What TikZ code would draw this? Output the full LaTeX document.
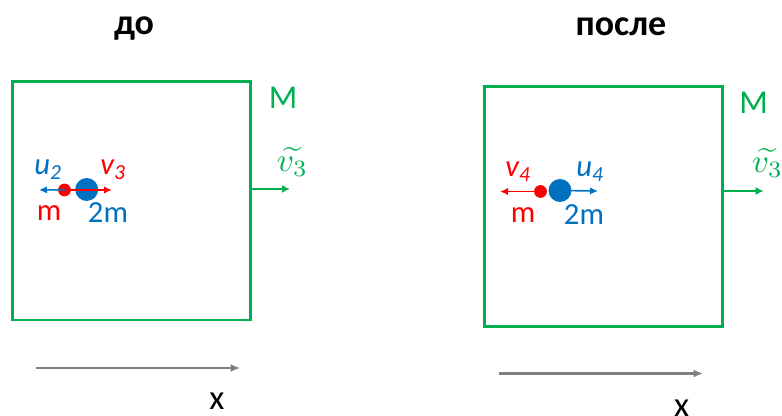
\documentclass[tikz,border=0pt]{standalone}
\usepackage{fontspec}
\setmainfont{Carlito}
\usetikzlibrary{arrows.meta,positioning}
\definecolor{boxgreen}{HTML}{00B050}
\definecolor{ballred}{HTML}{FF0000}
\definecolor{ballblue}{HTML}{0070C0}
\definecolor{axisgray}{HTML}{7F7F7F}
\newcommand{\vtilde}{\scalebox{2.5}{$\widetilde{v_3}$}}
\tikzset{
  massbox/.style={
    draw=boxgreen, line width=2.2pt, rectangle, inner sep=0pt,
    minimum width=178.6pt, minimum height=178.8pt
  },
  heading/.style={font=\bfseries\fontsize{27}{30}\selectfont, anchor=base},
  bigball/.style={circle, fill=ballblue, minimum size=17.2pt, inner sep=0pt},
  smallball/.style={circle, fill=ballred, minimum size=9.6pt, inner sep=0pt},
  velarrow/.style={-{Latex[length=6pt,width=5.5pt]}, line width=1.2pt},
  boxarrow/.style={-{Latex[length=6pt,width=6pt]}, line width=1.4pt, draw=boxgreen},
  axisarrow/.style={-{Latex[length=7pt,width=6pt]}, line width=1.9pt, draw=axisgray},
  masslabel/.style={font=\fontsize{23}{26}\selectfont},
  vellabel/.style={font=\itshape\fontsize{23}{26}\selectfont},
  boxlabel/.style={font=\fontsize{25}{28}\selectfont, text=boxgreen},
  tildelabel/.style={text=boxgreen, inner sep=1pt},
  axislabel/.style={font=\fontsize{26}{28}\selectfont}
}
\begin{document}
\begin{tikzpicture}[x=0.75pt,y=-0.75pt]
  \useasboundingbox (0,0) rectangle (782,416);

  % before
  \node[heading] (titleL) at (134,35) {до};
  \node[massbox] (boxL) at (131.8,200.8) {};
  \node[boxlabel] (bigML) at (283,98) {M};
  \coordinate (vboxL) at (290,189);
  \draw[boxarrow] (boxL.east |- vboxL) -- (vboxL);
  \node[tildelabel] (vtildeL) at (292.5,162) {\vtilde};

  \node[smallball] (mL) at (64.5,190) {};
  \node[bigball] (twomL) at (86.7,189.5) {};
  \coordinate (uendL) at (39,190);
  \coordinate (vendL) at (112,190);
  \draw[velarrow, ballblue] (twomL.center) -- (uendL);
  \draw[velarrow, ballred] (mL.center) -- (vendL);
  \node[vellabel, text=ballblue] (uL) at (48,170) {u\textsubscript{2}};
  \node[vellabel, text=ballred] (vL) at (113,170) {v\textsubscript{3}};
  \node[masslabel, text=ballred] (mlabL) at (49,213) {m};
  \node[masslabel, text=ballblue] (twomlabL) at (108,213) {2m};

  \coordinate (axL0) at (36,368);
  \coordinate (axL1) at (240,368);
  \draw[axisarrow] (axL0) -- (axL1);
  \node[axislabel] (xL) at (217,401) {x};

  % after
  \node[heading] (titleR) at (621,36) {после};
  \node[massbox, minimum width=178.5pt, minimum height=179.5pt] (boxR) at (603.7,206.4) {};
  \node[boxlabel] (bigMR) at (753.7,103) {M};
  \coordinate (vboxR) at (763.7,191);
  \draw[boxarrow] (boxR.east |- vboxR) -- (vboxR);
  \node[tildelabel] (vtildeR) at (767.5,163) {\vtilde};

  \node[smallball] (mR) at (540.5,191.5) {};
  \node[bigball] (twomR) at (560,190.5) {};
  \coordinate (vendR) at (500,191.5);
  \coordinate (uendR) at (598,191);
  \draw[velarrow, ballred] (mR.center) -- (vendR);
  \draw[velarrow, ballblue] (twomR.center) -- (uendR);
  \node[vellabel, text=ballred] (vR) at (518,172) {v\textsubscript{4}};
  \node[vellabel, text=ballblue] (uR) at (590,172) {u\textsubscript{4}};
  \node[masslabel, text=ballred] (mlabR) at (523,215) {m};
  \node[masslabel, text=ballblue] (twomlabR) at (584,215) {2m};

  \coordinate (axR0) at (499,373.5);
  \coordinate (axR1) at (703,373.5);
  \draw[axisarrow] (axR0) -- (axR1);
  \node[axislabel] (xR) at (681.5,408) {x};
\end{tikzpicture}
\end{document}
